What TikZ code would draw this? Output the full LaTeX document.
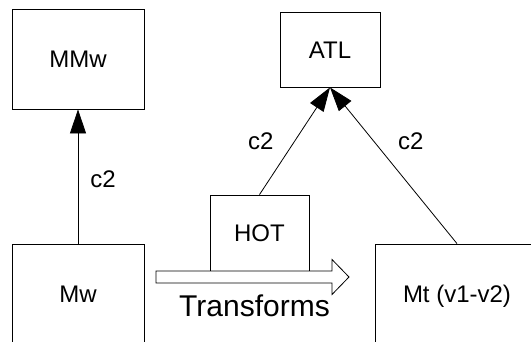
\documentclass[tikz,border=0pt]{standalone}
\usepackage{fontspec}
\setmainfont{Liberation Sans}
\usetikzlibrary{arrows.meta,positioning}

\begin{document}
\begin{tikzpicture}[x=1pt,y=-1pt,line width=0.8pt,
        box/.style={draw,rectangle,inner sep=0pt,font=\fontsize{24}{28}\selectfont,text height=17pt,text depth=0pt},
        lbl/.style={inner sep=0pt,font=\fontsize{24}{28}\selectfont},
        gen/.style={-{Triangle[length=24pt,width=16pt]}}]
        \path[use as bounding box,clip] (0,0) rectangle (531,341);
        \node[box,minimum width=132pt,minimum height=100pt] (MMw) at (78,59) {MMw};
        \node[box,minimum width=132pt,minimum height=100pt] (Mw) at (78,294) {Mw};
        \node[box,minimum width=100pt,minimum height=75pt] (ATL) at (330,49.5) {ATL};
        \node[box,minimum width=99pt,minimum height=76pt] (HOT) at (259.5,233) {HOT};
        \node[box,minimum width=164pt,minimum height=100pt] (Mt) at (457,294) {Mt (v1-v2)};
        \draw[gen] (Mw) -- (MMw) node[lbl,pos=0.478,anchor=west,xshift=12pt] (c2a) {c2};
        \draw[gen] (HOT.north) -- (ATL.south) node[lbl,pos=0.5,anchor=east,xshift=-21pt] (c2b) {c2};
        \draw[gen] (Mt.north) -- (ATL.south) node[lbl,pos=0.656,anchor=west,xshift=24pt] (c2c) {c2};
        \draw[fill=white] (156,271) -- (332,271) -- (332,259.5) -- (349,277) -- (332,294.5) -- (332,283) -- (156,283) -- cycle;
        \node[inner sep=0pt,font=\fontsize{30}{36}\selectfont] (trans) at (254.5,306) {Transforms};
\end{tikzpicture}
\end{document}
